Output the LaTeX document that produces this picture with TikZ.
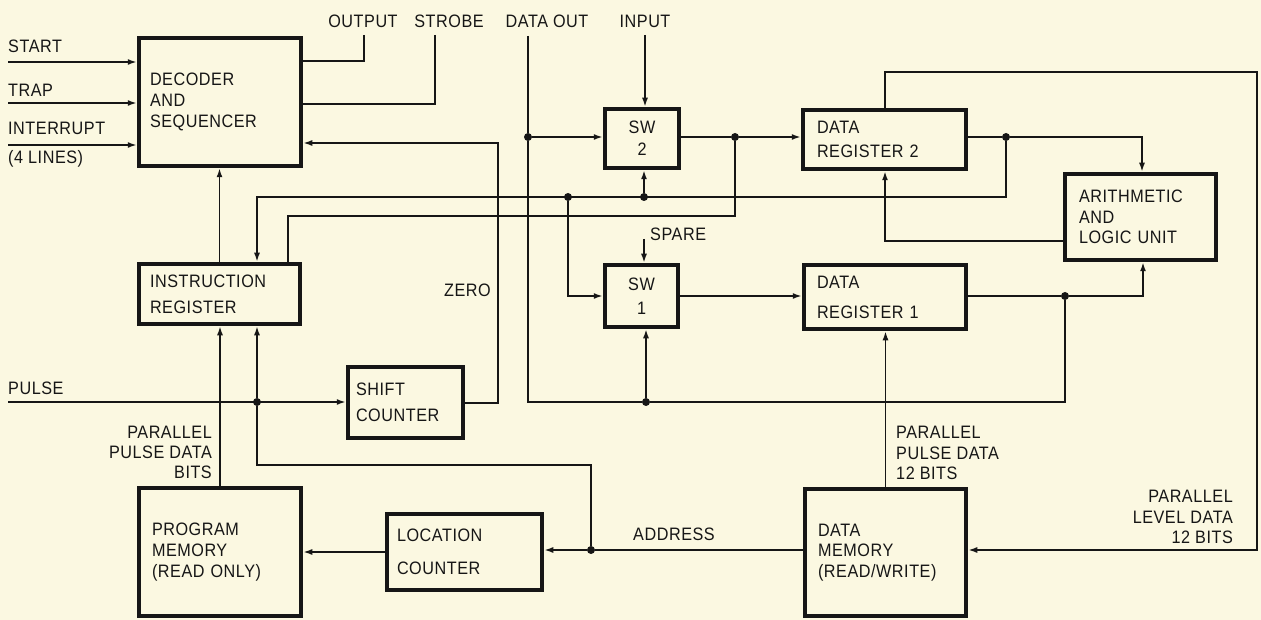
\documentclass[tikz,border=0pt]{standalone}
\usepackage{fontspec}
\setmainfont{Liberation Sans}[FakeStretch=0.9,LetterSpace=3]
\usetikzlibrary{arrows.meta}
\definecolor{paper}{RGB}{251,248,225}
\definecolor{ink}{RGB}{22,22,22}
\begin{document}
\begin{tikzpicture}[x=1pt,y=-1pt,
  every node/.style={font=\fontsize{18}{21}\selectfont, text=ink},
  blk/.style={draw=ink, line width=4.5pt, inner ysep=0pt, align=left},
  wire/.style={draw=ink, line width=1.6pt},
  arr/.style={wire, -{Latex[length=9pt,width=6pt]}},
  dot/.style={circle, fill=ink, inner sep=0pt, minimum size=8pt},
  lbl/.style={inner sep=0pt}]
\fill[paper] (0,0) rectangle (1261,620);
\useasboundingbox (0,0) rectangle (1261,620);

% blocks
\node[blk, inner xsep=11pt, text width=140pt, minimum height=128pt] (dec) at (220,102) {DECODER\\AND\\SEQUENCER};
\node[blk, inner xsep=11pt, text width=139pt, minimum height=60pt, font=\fontsize{18}{26}\selectfont] (ir) at (219.5,294) {INSTRUCTION\\REGISTER};
\node[blk, inner xsep=8pt, text width=99pt, minimum height=71pt, font=\fontsize{18}{26}\selectfont] (sc) at (405.5,402.5) {SHIFT\\COUNTER};
\node[blk, inner xsep=4pt, text width=66pt, minimum height=59pt, align=center, font=\fontsize{18}{22}\selectfont] (sw2) at (642,138.5) {SW\\2};
\node[blk, inner xsep=4pt, text width=65pt, minimum height=62pt, align=center, font=\fontsize{18}{24}\selectfont] (sw1) at (641.5,296) {SW\\1};
\node[blk, inner xsep=14pt, text width=135pt, minimum height=59pt, font=\fontsize{18}{24}\selectfont] (dr2) at (884.5,139.5) {DATA\\REGISTER~2};
\node[blk, inner xsep=13pt, text width=136pt, minimum height=64pt, font=\fontsize{18}{30}\selectfont] (dr1) at (885,297) {DATA\\REGISTER~1};
\node[blk, inner xsep=14pt, text width=123pt, minimum height=86pt, font=\fontsize{18}{20.5}\selectfont] (alu) at (1140.5,217) {ARITHMETIC\\AND\\LOGIC~UNIT};
\node[blk, inner xsep=13pt, text width=136pt, minimum height=128pt] (pm) at (220,552) {PROGRAM\\MEMORY\\(READ~ONLY)};
\node[blk, inner xsep=10pt, text width=135pt, minimum height=76pt, font=\fontsize{18}{33}\selectfont] (lc) at (464.5,552) {LOCATION\\COUNTER};
\node[blk, inner xsep=13pt, text width=135pt, minimum height=127pt, font=\fontsize{18}{20.5}\selectfont] (dm) at (885.5,552.5) {DATA\\MEMORY\\(READ/WRITE)};

% labels
\node[lbl, anchor=west] (tstart) at (8,46) {START};
\node[lbl, anchor=west] (ttrap) at (8,90) {TRAP};
\node[lbl, anchor=west] (tint) at (8,128) {INTERRUPT};
\node[lbl, anchor=west] (tint2) at (8,159) {(4 LINES)};
\node[lbl] (tout) at (363,21) {OUTPUT};
\node[lbl] (tstr) at (449,21) {STROBE};
\node[lbl] (tdo) at (547,21) {DATA OUT};
\node[lbl] (tinp) at (645,21) {INPUT};
\node[lbl, anchor=east] (tzero) at (491,290) {ZERO};
\node[lbl, anchor=west] (tspare) at (650,234) {SPARE};
\node[lbl, anchor=west] (tpulse) at (8,388) {PULSE};
\node[lbl, anchor=east, align=right, font=\fontsize{18}{20}\selectfont] (tppd) at (212,452) {PARALLEL\\PULSE DATA\\BITS};
\node[lbl, anchor=west, align=left, font=\fontsize{18}{20.5}\selectfont] (tppd2) at (896,453) {PARALLEL\\PULSE DATA\\12 BITS};
\node[lbl, anchor=east, align=right, font=\fontsize{18}{20.5}\selectfont] (tpld) at (1233,517) {PARALLEL\\LEVEL DATA\\12 BITS};
\node[lbl] (taddr) at (674,534) {ADDRESS};

% free ends and corners
\coordinate (startin) at (8,62);
\coordinate (trapin) at (8,103);
\coordinate (intin) at (8,145);
\coordinate (outtop) at (364,35);
\coordinate (oc) at (364,61);
\coordinate (strtop) at (435,35);
\coordinate (sc1) at (435,104);
\coordinate (z1) at (498,403);
\coordinate (z2) at (498,143);
\coordinate (a1) at (1142,137);
\coordinate (b1) at (1006,197);
\coordinate (b2) at (257,197);
\coordinate (c1) at (568,296);
\coordinate (d1) at (735,216);
\coordinate (d2) at (288,216);
\coordinate (dotop) at (528,36);
\coordinate (e1) at (528,402);
\coordinate (e2) at (1065,402);
\coordinate (sparetop) at (644,239);
\coordinate (inptop) at (645,35);
\coordinate (g1) at (1143,296);
\coordinate (h1) at (885,241);
\coordinate (k1) at (885,72);
\coordinate (k2) at (1257,72);
\coordinate (k3) at (1257,550);
\coordinate (m1) at (591,465);
\coordinate (m2) at (257,465);
\coordinate (pulsein) at (8,402);

% junction dots
\node[dot] (j1) at (528,137) {};
\node[dot] (j2) at (568,197) {};
\node[dot] (j3) at (644,197) {};
\node[dot] (j4) at (1006,137) {};
\node[dot] (j5) at (735,137) {};
\node[dot] (j6) at (646,402) {};
\node[dot] (j7) at (1065,296) {};
\node[dot] (j8) at (591,550) {};
\node[dot] (j9) at (257,402) {};

% connectors
\draw[arr] (startin) -- (startin -| dec.west);
\draw[arr] (trapin) -- (trapin -| dec.west);
\draw[arr] (intin) -- (intin -| dec.west);
\draw[wire] (outtop) -- (oc) -- (oc -| dec.east);
\draw[wire] (strtop) -- (sc1) -- (sc1 -| dec.east);
\draw[arr] (z1 -| sc.east) -- (z1) -- (z2) -- (z2 -| dec.east);
\draw[arr] (ir.north) -- (ir.north |- dec.south);
\draw[wire] (j4 -| dr2.east) -- (j4);
\draw[arr] (j4) -- (a1) -- (a1 |- alu.north);
\draw[arr] (j4) -- (b1) -- (b2) -- (b2 |- ir.north);
\draw[arr] (j3) -- (j3 |- sw2.south);
\draw[arr] (j2) -- (c1) -- (c1 -| sw1.west);
\draw[wire] (j5 -| sw2.east) -- (j5);
\draw[arr] (j5) -- (j5 -| dr2.west);
\draw[wire] (j5) -- (d1) -- (d2) -- (d2 |- ir.north);
\draw[wire] (dotop) -- (j1) -- (e1) -- (j6) -- (e2) -- (j7);
\draw[arr] (j1) -- (j1 -| sw2.west);
\draw[arr] (j6) -- (j6 |- sw1.south);
\draw[arr] (sparetop) -- (sparetop |- sw1.north);
\draw[arr] (inptop) -- (inptop |- sw2.north);
\draw[arr] (c1 -| sw1.east) -- (c1 -| dr1.west);
\draw[wire] (j7 -| dr1.east) -- (j7);
\draw[arr] (j7) -- (g1) -- (g1 |- alu.south);
\draw[arr] (h1 -| alu.west) -- (h1) -- (h1 |- dr2.south);
\draw[arr] (k1 |- dr2.north) -- (k1) -- (k2) -- (k3) -- (k3 -| dm.east);
\draw[arr] (dm.north) -- (dm.north |- dr1.south);
\draw[wire] (j8 -| dm.west) -- (j8);
\draw[arr] (j8) -- (j8 -| lc.east);
\draw[arr] (j8) -- (m1) -- (m2) -- (j9) -- (j9 |- ir.south);
\draw[arr] (pulsein) -- (pulsein -| sc.west);
\draw[arr] (pm.north) -- (pm.north |- ir.south);
\draw[arr] (lc.west) -- (lc.west -| pm.east);
\end{tikzpicture}
\end{document}
